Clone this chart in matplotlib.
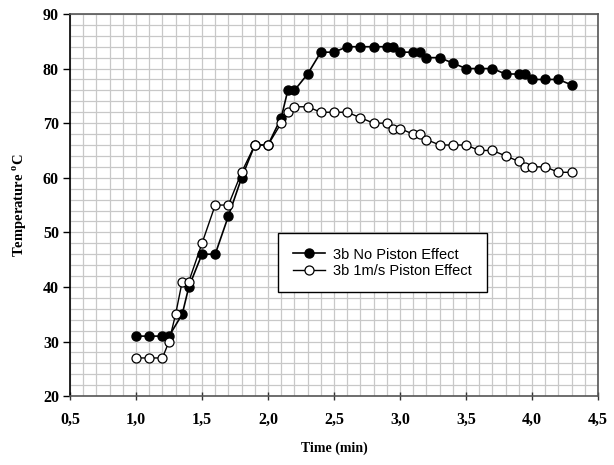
import matplotlib
matplotlib.use("Agg")
import matplotlib.pyplot as plt
from matplotlib.ticker import MultipleLocator, FuncFormatter

# Data
t_np = [1.0, 1.1, 1.2, 1.25, 1.35, 1.4, 1.5, 1.6, 1.7, 1.8, 1.9, 2.0, 2.1, 2.15, 2.2,
        2.3, 2.4, 2.5, 2.6, 2.7, 2.8, 2.9, 2.95, 3.0, 3.1, 3.15, 3.2, 3.3, 3.4, 3.5,
        3.6, 3.7, 3.8, 3.9, 3.95, 4.0, 4.1, 4.2, 4.3]
T_np = [31, 31, 31, 31, 35, 40, 46, 46, 53, 60, 66, 66, 71, 76, 76,
        79, 83, 83, 84, 84, 84, 84, 84, 83, 83, 83, 82, 82, 81, 80,
        80, 80, 79, 79, 79, 78, 78, 78, 77]

t_p = [1.0, 1.1, 1.2, 1.25, 1.3, 1.35, 1.4, 1.5, 1.6, 1.7, 1.8, 1.9, 2.0, 2.1, 2.15,
       2.2, 2.3, 2.4, 2.5, 2.6, 2.7, 2.8, 2.9, 2.95, 3.0, 3.1, 3.15, 3.2, 3.3, 3.4,
       3.5, 3.6, 3.7, 3.8, 3.9, 3.95, 4.0, 4.1, 4.2, 4.3]
T_p = [27, 27, 27, 30, 35, 41, 41, 48, 55, 55, 61, 66, 66, 70, 72,
       73, 73, 72, 72, 72, 71, 70, 70, 69, 69, 68, 68, 67, 66, 66,
       66, 65, 65, 64, 63, 62, 62, 62, 61, 61]

labels = ["3b No Piston Effect", "3b 1m/s Piston Effect"]

plt.rcParams['mathtext.fontset'] = 'custom'
plt.rcParams['mathtext.rm'] = 'Liberation Serif:bold'
plt.rcParams['mathtext.bf'] = 'Liberation Serif:bold'

fig = plt.figure(figsize=(6.14, 4.65), dpi=100)
ax = fig.add_axes([0.114, 0.148, 0.86, 0.822])

ax.plot(t_np, T_np, '-o', color='black', lw=1.2, markersize=6.5,
        markerfacecolor='black', markeredgecolor='black', label=labels[0], zorder=3)
ax.plot(t_p, T_p, '-o', color='black', lw=1.0, markersize=6.5,
        markerfacecolor='white', markeredgecolor='black', markeredgewidth=0.9,
        label=labels[1], zorder=4)

ax.set_xlim(0.5, 4.5)
ax.set_ylim(20, 90)
ax.xaxis.set_major_locator(MultipleLocator(0.5))
ax.xaxis.set_minor_locator(MultipleLocator(0.1))
ax.yaxis.set_major_locator(MultipleLocator(10))
ax.yaxis.set_minor_locator(MultipleLocator(2))
ax.xaxis.set_major_formatter(FuncFormatter(lambda v, p: f"{v:.1f}".replace('.', ',')))

ax.grid(True, which='both', color='#c8c8c8', lw=0.9, zorder=0)
ax.set_axisbelow(True)

for lab in ax.get_xticklabels() + ax.get_yticklabels():
    lab.set_fontfamily('Liberation Serif')
    lab.set_fontweight('bold')
    lab.set_fontsize(11.5)
ax.tick_params(axis='x', which='major', direction='inout', length=6, width=1, pad=8, colors='#333333', labelcolor='black')
ax.tick_params(axis='y', which='major', direction='out', length=5, width=1, pad=3)
ax.tick_params(which='minor', length=0)

for s in ['left']:
    ax.spines[s].set_color('black')
for s in ['bottom', 'top', 'right']:
    ax.spines[s].set_color('#555555')
for s in ax.spines.values():
    s.set_linewidth(1.2)

ax.set_xlabel('Time (min)', fontfamily='Liberation Serif', fontweight='bold', fontsize=10, labelpad=10)
ax.set_ylabel(r'Temperature $^{\mathrm{o}}$C', fontfamily='Liberation Serif', fontweight='bold', fontsize=10.5, labelpad=10)

leg = ax.legend(loc='upper left', bbox_to_anchor=(0.394, 0.427), borderaxespad=0, frameon=True, fancybox=False,
                edgecolor='black', framealpha=1, prop={'family': 'Liberation Sans', 'size': 10.5},
                handlelength=2.2, borderpad=1.0, labelspacing=0.15, handletextpad=0.6)
leg.get_frame().set_linewidth(1.0)
leg.set_zorder(10)

fig.savefig('out.png', dpi=100)
